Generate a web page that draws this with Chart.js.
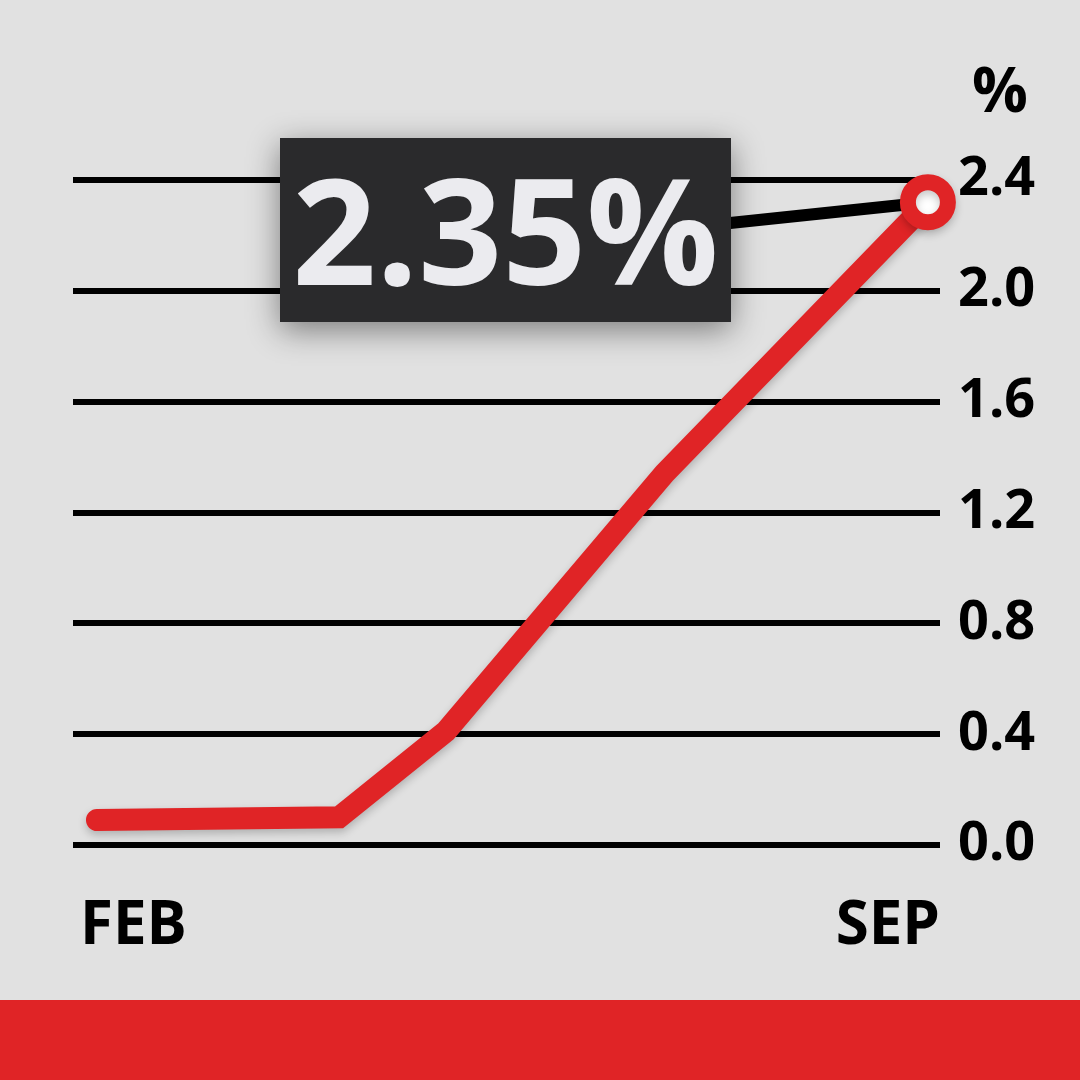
<!DOCTYPE html>
<html><head><meta charset="utf-8">
<script src="https://cdn.jsdelivr.net/npm/chart.js@4.4.1/dist/chart.umd.min.js"></script>
<style>
html,body{margin:0;padding:0;background:#e1e1e1;width:1080px;height:1080px;overflow:hidden}
#wrap{position:absolute;left:0;top:0;width:1080px;height:1000px}
#band{position:absolute;left:0;top:1000px;width:1080px;height:80px;background:#e02426}
</style></head><body>
<div id="wrap"><canvas id="c" width="1080" height="1000"></canvas></div>
<div id="band"></div>
<script>
// ---- data ----
const monthPos = [0, 2.04, 2.94, 4.78, 7];          // months after FEB
const rateValues = [0.09, 0.10, 0.41, 1.34, 2.32];  // %
const xTickLabels = ['FEB', 'SEP'];
const yTickValues = [0, 0.4, 0.8, 1.2, 1.6, 2.0, 2.4];
const unitLabel = '%';
const calloutText = '2.35%';

const FONT = "'Open Sans', 'Noto Sans', sans-serif";
const RED = '#e02426';

const shadowPlugin = {
  id: 'lineShadow',
  beforeDatasetDraw(chart) {
    const c = chart.ctx; c.save();
    c.shadowColor = 'rgba(0,0,0,0.22)'; c.shadowBlur = 8; c.shadowOffsetY = 4;
  },
  afterDatasetDraw(chart) { chart.ctx.restore(); }
};

const calloutPlugin = {
  id: 'callout',
  beforeDatasetsDraw(chart) {
    const ctx = chart.ctx, xs = chart.scales.x, ys = chart.scales.y;
    const n = rateValues.length - 1;
    const px = xs.getPixelForValue(monthPos[n]), py = ys.getPixelForValue(rateValues[n]);
    const bx = 280, by = 138, bw = 451, bh = 184;
    ctx.save();
    ctx.strokeStyle = '#000'; ctx.lineWidth = 12; ctx.lineCap = 'butt';
    ctx.beginPath(); ctx.moveTo(bx + bw - 20, 225); ctx.lineTo(px, py); ctx.stroke();
    ctx.shadowColor = 'rgba(0,0,0,0.45)'; ctx.shadowBlur = 30; ctx.shadowOffsetY = 8;
    ctx.fillStyle = '#2a2a2c';
    ctx.fillRect(bx, by, bw, bh);
    ctx.shadowColor = 'transparent';
    ctx.fillStyle = '#ebebef';
    ctx.font = 'bold 147px ' + FONT;
    ctx.textAlign = 'center'; ctx.textBaseline = 'alphabetic';
    ctx.fillText(calloutText, bx + bw / 2, 285);
    ctx.restore();
  },
  afterDraw(chart) {
    const ctx = chart.ctx;
    ctx.save();
    ctx.fillStyle = '#000';
    ctx.font = 'bold 62px ' + FONT;
    ctx.textAlign = 'center'; ctx.textBaseline = 'alphabetic';
    ctx.fillText(unitLabel, 1000, 112);
    ctx.restore();
  }
};

new Chart(document.getElementById('c'), {
  type: 'line',
  data: {
    datasets: [{
      data: monthPos.map((x, i) => ({ x: x, y: rateValues[i] })),
      borderColor: RED,
      borderWidth: 22,
      borderCapStyle: 'round',
      borderJoinStyle: 'miter',
      tension: 0,
      clip: false,
      pointRadius: ctx => ctx.dataIndex === rateValues.length - 1 ? 20 : 0,
      pointBorderWidth: 16,
      pointBackgroundColor: '#ffffff',
      pointBorderColor: RED,
      pointHoverRadius: 0
    }]
  },
  options: {
    responsive: false,
    animation: false,
    events: [],
    layout: { padding: { left: 73, top: 180, right: 0, bottom: 0 } },
    plugins: { legend: { display: false }, tooltip: { enabled: false } },
    scales: {
      x: {
        type: 'linear', min: -0.202, max: 7.102,
        grid: { display: false, drawTicks: false },
        border: { display: false },
        afterBuildTicks: s => { s.ticks = [{ value: -0.143 }, { value: 7.102 }]; },
        afterFit: s => { s.height = 155; },
        ticks: {
          align: 'inner', autoSkip: false, maxRotation: 0, padding: 46,
          color: '#000', font: { family: FONT, size: 60, weight: 'bold' },
          callback: (v, i) => xTickLabels[i]
        }
      },
      y: {
        position: 'right', min: 0, max: 2.4,
        afterBuildTicks: s => { s.ticks = yTickValues.map(v => ({ value: v })); },
        afterFit: s => { s.width = 140; },
        grid: { color: '#000', lineWidth: 6, drawTicks: false },
        border: { display: false },
        ticks: {
          padding: 18, color: '#000',
          font: { family: FONT, size: 54, weight: 'bold' },
          callback: v => Number(v).toFixed(1)
        }
      }
    }
  },
  plugins: [shadowPlugin, calloutPlugin]
});
</script>
</body></html>
